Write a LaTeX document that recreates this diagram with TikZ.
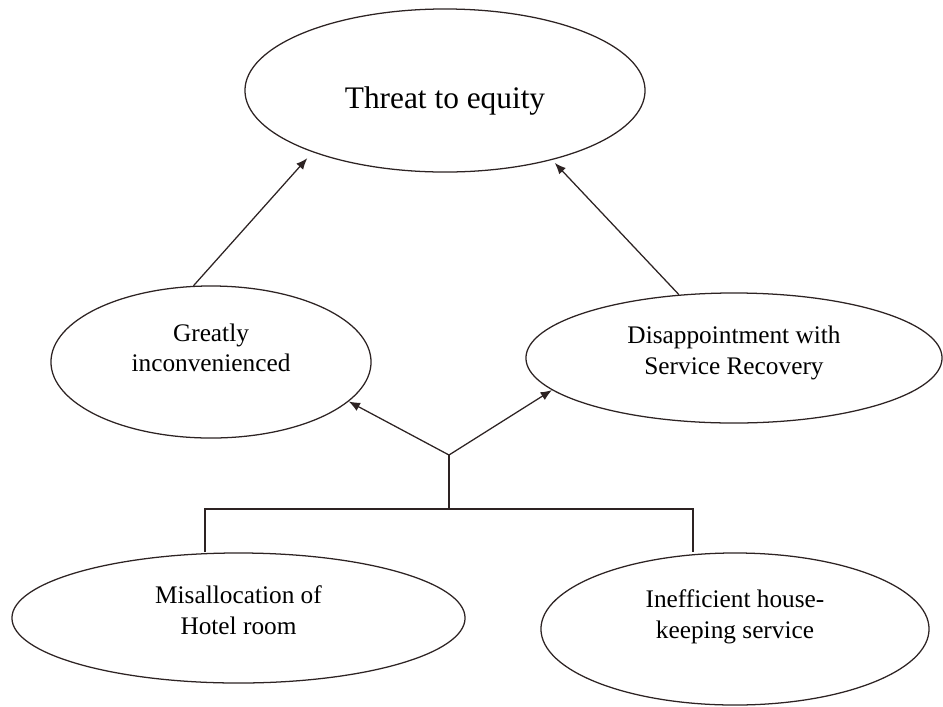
\documentclass[tikz,border=0pt]{standalone}
\usepackage{fontspec}
\setmainfont{Liberation Serif}
\usepackage{tikz}
\usetikzlibrary{positioning, arrows.meta, shapes.geometric}
\definecolor{ink}{RGB}{45,35,35}

\begin{document}
\begin{tikzpicture}[x=0.025cm, y=-0.025cm,
    oval/.style={ellipse, draw=ink, line width=0.9pt, inner sep=0pt},
    lbl/.style={align=center, font=\fontsize{18}{21.7}\selectfont, inner sep=0pt},
    title/.style={font=\fontsize{22.3}{26}\selectfont, inner sep=0pt},
    link/.style={draw=ink, line width=0.9pt},
    arrow/.style={link, -{Latex[length=8pt, width=6.5pt]}}
]
\useasboundingbox (0,0) rectangle (943,706);

% Outcome
\node[oval, minimum width=10cm, minimum height=4.075cm,
      label={[title, yshift=-0.25cm]center:Threat to equity}] (threat) at (445,90.5) {};

% Middle level
\node[oval, minimum width=8cm, minimum height=3.8cm,
      label={[lbl, yshift=0.36cm]center:{Greatly\\inconvenienced}}] (great) at (211,362) {};
\node[oval, minimum width=10.4cm, minimum height=3.25cm,
      label={[lbl, yshift=0.13cm]center:{Disappointment with\\Service Recovery}}] (disap) at (734,358) {};

% Causes
\node[oval, minimum width=11.325cm, minimum height=3.25cm,
      label={[lbl, yshift=0.2cm]center:{Misallocation of\\Hotel room}}] (misalloc) at (238.5,618) {};
\node[oval, minimum width=9.7cm, minimum height=3.8cm,
      label={[lbl, yshift=0.3cm]center:{Inefficient house-\\keeping service}}] (housekp) at (735,629) {};

% Joints
\coordinate (fork) at (449,455);
\coordinate (barL) at (205,509);
\coordinate (barM) at (449,509);
\coordinate (barR) at (693,509);

% Causes joined by a bar
\draw[link] (misalloc.north -| barL) -- (barL) -- (barR) -- (housekp.north -| barR);
\draw[link] (barM) -- (fork);

% Arrows upwards
\draw[arrow] (fork) -- (great.-16);
\draw[arrow] (fork) -- (disap.190);
\draw[arrow, shorten >=0.2cm] (great.103) -- (threat.205);
\draw[arrow, shorten >=0.1cm] (disap.131) -- (threat.-33);

\end{tikzpicture}
\end{document}
